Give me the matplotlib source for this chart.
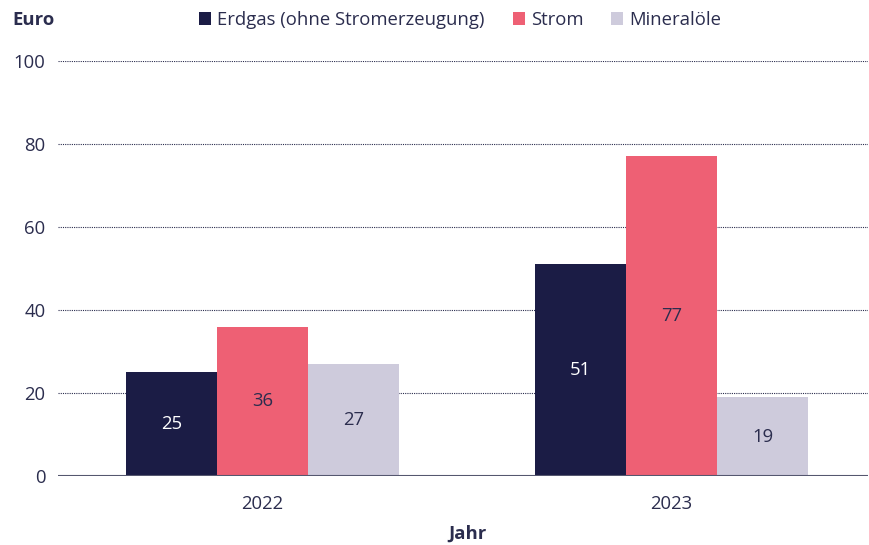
import numpy as np
import matplotlib.pyplot as plt

plt.rcParams['font.family'] = ['Open Sans', 'DejaVu Sans']

jahre = ['2022', '2023']
serien = ['Erdgas (ohne Stromerzeugung)', 'Strom', 'Mineralöle']
erdgas = [25, 51]
strom = [36, 77]
mineraloele = [27, 19]

farben = ['#1b1c45', '#ee6074', '#cecbdc']
label_farben = ['white', '#2b2d4e', '#2b2d4e']
text_farbe = '#2b2d4e'
fs = 13.3

fig = plt.figure(figsize=(8.7, 5.45), dpi=100)
ax = fig.add_axes([58 / 870, 1 - 476 / 545, 810 / 870, 415 / 545])

x = np.arange(len(jahre))
w = 0.2225
for i, (werte, name) in enumerate(zip([erdgas, strom, mineraloele], serien)):
    pos = x + (i - 1) * w
    bars = ax.bar(pos, werte, width=w, color=farben[i], label=name, zorder=3)
    for b, v in zip(bars, werte):
        ax.text(b.get_x() + b.get_width() / 2, v / 2, str(v), ha='center', va='center',
                color=label_farben[i], fontsize=fs, zorder=4)

ax.set_ylim(0, 100)
ax.set_xlim(-0.5, 1.48)
ax.set_yticks([0, 20, 40, 60, 80, 100])
ax.set_xticks(x)
ax.set_xticklabels(jahre)
ax.tick_params(length=0, labelsize=fs, colors=text_farbe)
ax.tick_params(axis='x', pad=14)
ax.tick_params(axis='y', pad=9)
for s in ax.spines.values():
    s.set_visible(False)
ax.yaxis.grid(True, linestyle=(0, (1, 1)), color='#2b2d4e', linewidth=0.8, zorder=0)
ax.axhline(0, color='#55576f', linewidth=1.5, zorder=5)
ax.get_ygridlines()[0].set_visible(False)

fig.text(12 / 870, 1 - 20 / 545, 'Euro', fontsize=fs, fontweight='bold', color=text_farbe,
         ha='left', va='center')
fig.text(467 / 870, 1 - 534 / 545, 'Jahr', fontsize=fs, fontweight='bold', color=text_farbe,
         ha='center', va='center')

fig.legend(loc='center left', bbox_to_anchor=(199 / 870, 1 - 20 / 545), ncol=3, frameon=False,
           fontsize=fs, handlelength=0.65, handleheight=0.65, handletextpad=0.35,
           columnspacing=1.5, labelcolor=text_farbe, borderaxespad=0, borderpad=0)

fig.savefig('out.png', dpi=100)
